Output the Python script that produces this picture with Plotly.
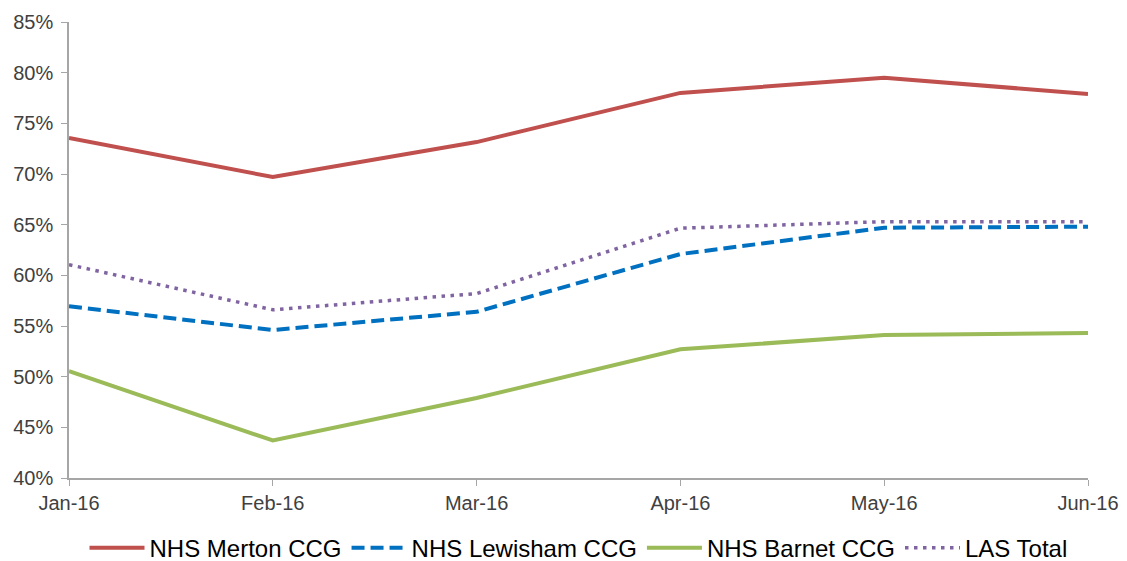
import plotly.graph_objects as go

months = ["Jan-16", "Feb-16", "Mar-16", "Apr-16", "May-16", "Jun-16"]
merton = [73.55, 69.7, 73.15, 78.0, 79.5, 77.9]
lewisham = [56.95, 54.6, 56.4, 62.1, 64.7, 64.8]
barnet = [50.55, 43.7, 47.9, 52.7, 54.1, 54.3]
las_total = [61.05, 56.6, 58.2, 64.65, 65.3, 65.3]

y_ticks = [40, 45, 50, 55, 60, 65, 70, 75, 80, 85]
y_tick_labels = [f"{v}%" for v in y_ticks]

series = [
    ("NHS Merton CCG", merton, "#C0504D", "solid", 4),
    ("NHS Lewisham CCG", lewisham, "#0070C0", "13px,6px", 4),
    ("NHS Barnet CCG", barnet, "#9BBB59", "solid", 4),
    ("LAS Total", las_total, "#8064A2", "3.5px,5.5px", 3.5),
]

fig = go.Figure()
for name, vals, color, dash, w in series:
    fig.add_trace(go.Scatter(
        x=months, y=vals, mode="lines", name=name,
        line=dict(color=color, width=w, dash=dash),
    ))

axis_font = dict(family="Liberation Sans, Arial, sans-serif", size=20, color="#404040")

fig.update_layout(
    width=1127, height=561,
    paper_bgcolor="white", plot_bgcolor="white",
    margin=dict(l=61, r=47, t=14, b=91, autoexpand=False),
    font=axis_font,
    showlegend=True,
    legend=dict(orientation="h", x=0.5, xanchor="center",
                yref="container", y=0.037, yanchor="middle",
                font=dict(family="Liberation Sans, Arial, sans-serif", size=24, color="#000000"),
                itemwidth=55, tracegroupgap=0),
    xaxis=dict(type="category", range=[0, 5], showgrid=False, zeroline=False,
               showline=True, linecolor="#A6A6A6", linewidth=1.5,
               ticks="outside", ticklen=6, tickcolor="#A6A6A6",
               tickfont=axis_font),
    yaxis=dict(range=[40, 85], tickvals=y_ticks, ticktext=y_tick_labels,
               showgrid=False, zeroline=False,
               showline=True, linecolor="#A6A6A6", linewidth=1.5,
               ticks="outside", ticklen=6, tickcolor="#A6A6A6",
               ticklabelstandoff=4,
               tickfont=axis_font),
)

fig.write_html("out.html")
